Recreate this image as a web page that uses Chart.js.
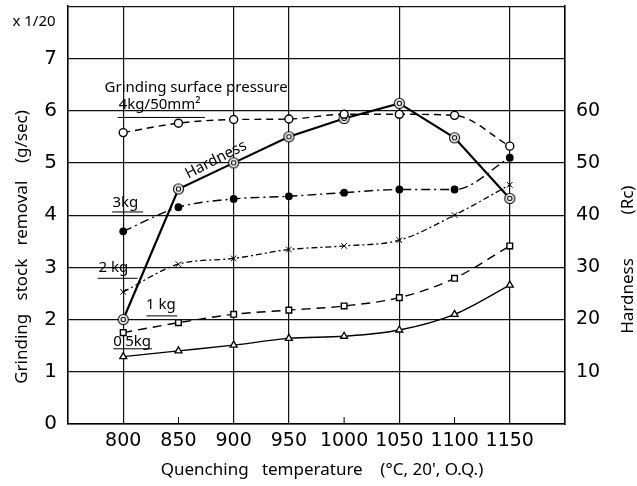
<!DOCTYPE html>
<html>
<head>
<meta charset="utf-8">
<script src="https://cdn.jsdelivr.net/npm/chart.js@4.4.1/dist/chart.umd.min.js"></script>
<style>
  body { margin: 0; background: #fff; }
  #wrap { width: 637px; height: 486px; }
</style>
</head>
<body>
<div id="wrap"><canvas id="stockChart"></canvas></div>
<script>
// Quenching temperature (°C)
const temps = [800, 850, 900, 950, 1000, 1050, 1100, 1150];

// Grinding stock removal (g/sec, x1/20) for each surface pressure
const removal4kg  = [5.58, 5.76, 5.83, 5.84, 5.93, 5.93, 5.91, 5.32];
const removal3kg  = [3.69, 4.15, 4.31, 4.36, 4.43, 4.49, 4.49, 5.10];
const removal2kg  = [2.53, 3.06, 3.17, 3.34, 3.41, 3.52, 4.00, 4.58];
const removal1kg  = [1.75, 1.94, 2.10, 2.18, 2.26, 2.42, 2.79, 3.41];
const removal05kg = [1.29, 1.40, 1.51, 1.64, 1.68, 1.80, 2.10, 2.66];

// Hardness (Rc)
const hardnessRc = [20, 45, 50, 55, 58.5, 61.4, 54.8, 43.2];

// tick labels
const xTickLabels = [800, 850, 900, 950, 1000, 1050, 1100, 1150];
const xGridAt = [800, 900, 950, 1050, 1150];
const leftTicks = [0, 1, 2, 3, 4, 5, 6, 7];
const rightTicks = [10, 20, 30, 40, 50, 60];

const FONT = '"Noto Sans", "DejaVu Sans", sans-serif';
const TICK_FONT = '"DejaVu Sans", sans-serif';

function pts(arr) {
    return temps.map((t, i) => ({ x: t, y: arr[i] }));
}

// double circle marker used for hardness
function doubleCircle() {
    const c = document.createElement('canvas');
    c.width = 13; c.height = 13;
    const g = c.getContext('2d');
    g.fillStyle = '#fff';
    g.strokeStyle = '#000';
    g.lineWidth = 1.1;
    g.beginPath(); g.arc(6.5, 6.5, 5, 0, Math.PI * 2); g.fill(); g.stroke();
    g.beginPath(); g.arc(6.5, 6.5, 2.2, 0, Math.PI * 2); g.stroke();
    return c;
}

// text labels on the plot (in data units)
const notes = [
    { text: 'Grinding surface pressure', x: 866, y: 6.43, size: 15 },
    { text: '4kg/50mm²', x: 833, y: 6.12, size: 15 },
    { text: '3kg', x: 802, y: 4.24, size: 15 },
    { text: '2 kg', x: 791, y: 3.0, size: 15 },
    { text: '1 kg', x: 834, y: 2.29, size: 15 },
    { text: "0'5kg", x: 808, y: 1.58, size: 15 },
    { text: 'Hardness', x: 884, y: 5.06, size: 15, rot: -27 }
];
const leaders = [
    [795, 5.87, 874, 5.87],
    [790, 4.06, 818, 4.06],
    [777, 2.79, 813, 2.79],
    [821, 2.07, 849, 2.07],
    [791, 1.44, 826, 1.44]
];

function vText(ctx, text, px, py) {
    ctx.save();
    ctx.translate(px, py);
    ctx.rotate(-Math.PI / 2);
    ctx.fillText(text, 0, 0);
    ctx.restore();
}

const notesPlugin = {
    id: 'notes',
    afterDatasetsDraw(chart) {
        const { ctx, scales: { x, y }, chartArea } = chart;
        ctx.save();
        ctx.fillStyle = '#000';
        ctx.strokeStyle = '#000';
        ctx.lineWidth = 1;
        leaders.forEach(l => {
            ctx.beginPath();
            ctx.moveTo(x.getPixelForValue(l[0]), y.getPixelForValue(l[1]));
            ctx.lineTo(x.getPixelForValue(l[2]), y.getPixelForValue(l[3]));
            ctx.stroke();
        });
        ctx.textAlign = 'center';
        ctx.textBaseline = 'middle';
        notes.forEach(n => {
            ctx.save();
            ctx.translate(x.getPixelForValue(n.x), y.getPixelForValue(n.y));
            if (n.rot) ctx.rotate(n.rot * Math.PI / 180);
            ctx.font = n.size + 'px ' + FONT;
            ctx.fillText(n.text, 0, 0);
            ctx.restore();
        });
        // small tick marks on the bottom axis
        [850, 1000, 1100].forEach(v => {
            const px = x.getPixelForValue(v);
            ctx.beginPath();
            ctx.moveTo(px, chartArea.bottom);
            ctx.lineTo(px, chartArea.bottom - 7);
            ctx.stroke();
        });
        // axis titles
        ctx.font = '17px ' + FONT;
        ctx.fillText('Quenching   temperature    (°C, 20\', O.Q.)', 322, 470);
        vText(ctx, 'Grinding   stock   removal    (g/sec)', 22, 247);
        vText(ctx, 'Hardness', 628, 296);
        vText(ctx, '(Rc)', 628, 200);
        ctx.font = '15px ' + FONT;
        ctx.fillText('x 1/20', 34, 22);
        ctx.restore();
    }
};

// keep the plot frame where the reference has it
function fixY(width) {
    return s => {
        s.width = width;
        s.paddingTop = 0;
        s.paddingBottom = 0;
    };
}

const ctx = document.getElementById('stockChart').getContext('2d');

const stockChart = new Chart(ctx, {
    type: 'line',
    data: {
        datasets: [
            {
                label: '4kg/50mm²',
                data: pts(removal4kg),
                borderColor: '#000',
                borderWidth: 1.4,
                borderDash: [7, 5],
                pointStyle: 'circle',
                pointRadius: 4,
                pointBackgroundColor: '#fff',
                pointBorderColor: '#000',
                cubicInterpolationMode: 'monotone'
            },
            {
                label: '3kg',
                data: pts(removal3kg),
                borderColor: '#000',
                borderWidth: 1.4,
                borderDash: [9, 4, 2, 4],
                pointStyle: 'circle',
                pointRadius: 3.2,
                pointBackgroundColor: '#000',
                pointBorderColor: '#000',
                cubicInterpolationMode: 'monotone'
            },
            {
                label: '2kg',
                data: pts(removal2kg),
                borderColor: '#000',
                borderWidth: 1.3,
                borderDash: [6, 3, 2, 3],
                pointStyle: 'crossRot',
                pointRadius: 4,
                pointBorderColor: '#000',
                pointBorderWidth: 1,
                cubicInterpolationMode: 'monotone'
            },
            {
                label: '1kg',
                data: pts(removal1kg),
                borderColor: '#000',
                borderWidth: 1.4,
                borderDash: [9, 6],
                pointStyle: 'rect',
                pointRadius: 4,
                pointBackgroundColor: '#fff',
                pointBorderColor: '#000',
                cubicInterpolationMode: 'monotone'
            },
            {
                label: '0.5kg',
                data: pts(removal05kg),
                borderColor: '#000',
                borderWidth: 1.3,
                pointStyle: 'triangle',
                pointRadius: 4,
                pointBackgroundColor: '#fff',
                pointBorderColor: '#000',
                cubicInterpolationMode: 'monotone'
            },
            {
                label: 'Hardness',
                data: pts(hardnessRc),
                yAxisID: 'y2',
                borderColor: '#000',
                borderWidth: 2.2,
                pointStyle: doubleCircle(),
                tension: 0
            }
        ]
    },
    options: {
        responsive: true,
        maintainAspectRatio: false,
        animation: false,
        layout: { padding: { top: 6, left: 0, right: 0, bottom: 0 } },
        plugins: {
            legend: { display: false },
            tooltip: { enabled: false }
        },
        scales: {
            x: {
                type: 'linear',
                min: 750,
                max: 1200,
                afterFit: s => { s.height = 62; s.paddingLeft = 0; s.paddingRight = 0; },
                ticks: {
                    stepSize: 50,
                    color: '#000',
                    padding: 6,
                    font: { family: TICK_FONT, size: 19 },
                    callback: v => xTickLabels.includes(v) ? String(v) : ''
                },
                grid: {
                    drawTicks: false,
                    lineWidth: 1.2,
                    color: c => xGridAt.includes(c.tick.value) ? '#111' : 'rgba(0,0,0,0)'
                },
                border: { display: true, color: '#000', width: 1.6 }
            },
            y: {
                min: 0,
                max: 8,
                afterFit: fixY(68),
                ticks: {
                    stepSize: 1,
                    color: '#000',
                    padding: 11,
                    font: { family: TICK_FONT, size: 20 },
                    callback: v => leftTicks.includes(v) ? String(v) : ''
                },
                grid: { drawTicks: false, color: '#111', lineWidth: 1.2 },
                border: { display: true, color: '#000', width: 1.6 }
            },
            y2: {
                position: 'right',
                min: 0,
                max: 80,
                afterFit: fixY(72),
                ticks: {
                    stepSize: 10,
                    color: '#000',
                    padding: 11,
                    font: { family: TICK_FONT, size: 19 },
                    callback: v => rightTicks.includes(v) ? String(v) : ''
                },
                grid: { display: false, drawTicks: false },
                border: { display: true, color: '#000', width: 1.6 }
            }
        }
    },
    plugins: [notesPlugin]
});
</script>
</body>
</html>
